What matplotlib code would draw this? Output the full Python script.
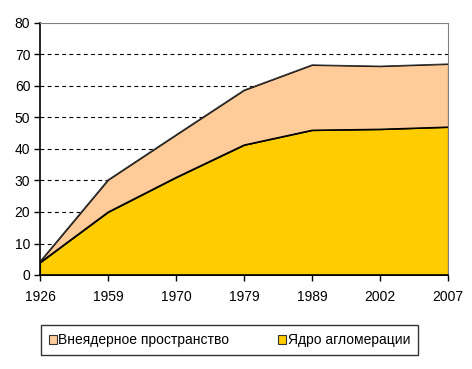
import matplotlib
matplotlib.use("Agg")
import matplotlib.pyplot as plt
import numpy as np
from matplotlib.patches import Patch

plt.rcParams['font.family'] = ['Liberation Sans', 'DejaVu Sans']

years = ['1926', '1959', '1970', '1979', '1989', '2002', '2007']
core = [4.0, 20.0, 31.0, 41.3, 46.0, 46.3, 47.0]
total = [4.3, 30.2, 44.5, 58.7, 66.7, 66.3, 67.0]
outer = [t - c for t, c in zip(total, core)]

fig = plt.figure(figsize=(4.72, 3.69), dpi=100)
ax = fig.add_axes([40/472, 1-275/369, 408/472, 252/369])
x = np.arange(len(years))
ax.stackplot(x, core, outer, colors=['#FFCC00', '#FFCC99'],
             edgecolor='black', linewidth=0.8)
ax.plot(x, core, color='black', lw=0.8)
ax.plot(x, total, color='#333333', lw=0.8)

ax.set_xlim(0, len(years)-1)
ax.set_ylim(0, 80)
ax.set_yticks(range(0, 81, 10))
ax.set_xticks(x)
ax.set_xticklabels(years)
for yv in range(10, 80, 10):
    ax.axhline(yv, color='black', lw=0.8, ls=(0, (3.5, 3)), zorder=0.5)
ax.set_axisbelow(True)
ax.tick_params(axis='both', labelsize=10, direction='out', length=4, width=1, color='black')
ax.tick_params(axis='x', pad=7)
ax.tick_params(axis='y', pad=3)
ax.spines['left'].set_color('black')
ax.spines['bottom'].set_color('black')
ax.spines['left'].set_linewidth(1.2)
ax.spines['bottom'].set_linewidth(1.2)
ax.spines['top'].set_color('#808080')
ax.spines['right'].set_color('#808080')

handles = [Patch(facecolor='#FFCC99', edgecolor='#333333', lw=0.8, label='Внеядерное пространство'),
           Patch(facecolor='#FFCC00', edgecolor='#333333', lw=0.8, label='Ядро агломерации')]
leg = fig.legend(handles=handles, loc='center', bbox_to_anchor=(229.5/472, 1-340/369),
                 ncol=2, fontsize=10, frameon=True, fancybox=False, edgecolor='black',
                 handlelength=0.6, handleheight=0.6, handletextpad=0.1, columnspacing=3.5,
                 borderpad=0.55, borderaxespad=0)
leg.get_frame().set_linewidth(1.0)
leg.get_frame().set_boxstyle('square', pad=0.0)

fig.savefig('out.png', dpi=100)
